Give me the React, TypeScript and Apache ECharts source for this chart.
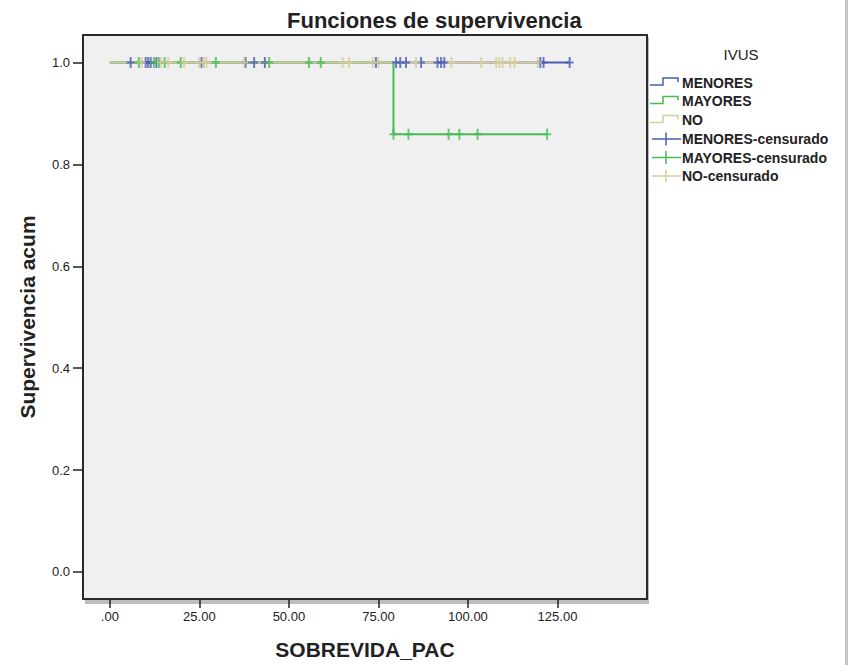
import React, { useEffect, useRef } from "react";
import * as echarts from "echarts";

const title = "Funciones de supervivencia";
const xName = "SOBREVIDA_PAC";
const yName = "Supervivencia acum";
const legendTitle = "IVUS";

const xTicks = [0, 25, 50, 75, 100, 125];
const yTicks = [0, 0.2, 0.4, 0.6, 0.8, 1.0];

const groups = ["MENORES", "MAYORES", "NO"];
const colors = ["#4a5db5", "#45bd50", "#d6ce9c"];

// Kaplan-Meier step curves: [time, cumulative survival]
const menoresCurve = [[0, 1], [128.4, 1]];
const mayoresCurve = [[0, 1], [79.2, 0.859], [122.1, 0.859]];
const noCurve = [[0, 1], [119.5, 1]];

// censored observations: [time, survival]
const menoresCensored = [
  [5.8, 1], [10.0, 1], [10.7, 1], [11.4, 1], [13.0, 1], [25.6, 1], [37.9, 1],
  [40.3, 1], [43.3, 1], [74.3, 1], [79.9, 1], [81.1, 1], [82.7, 1], [86.9, 1],
  [91.5, 1], [92.5, 1], [93.4, 1], [120.2, 1], [121.1, 1], [128.4, 1],
];
const mayoresCensored = [
  [8.1, 1], [12.3, 1], [13.7, 1], [15.3, 1], [19.8, 1], [29.6, 1], [44.5, 1],
  [55.6, 1], [58.9, 1], [79.2, 0.859], [83.4, 0.859], [94.6, 0.859],
  [97.6, 0.859], [102.7, 0.859], [122.1, 0.859],
];
const noCensored = [
  [8.9, 1], [14.2, 1], [16.3, 1], [20.7, 1], [24.9, 1], [26.3, 1], [27.0, 1],
  [37.5, 1], [65.0, 1], [66.8, 1], [73.4, 1], [75.0, 1], [85.5, 1], [95.4, 1],
  [103.7, 1], [107.9, 1], [108.8, 1], [109.7, 1], [111.8, 1], [113.0, 1],
  [119.5, 1],
];

const curves = [menoresCurve, mayoresCurve, noCurve];
const censored = [menoresCensored, mayoresCensored, noCensored];

const FONT = "'Liberation Sans', Arial, sans-serif";
const CROSS = "path://M3,0h2v4.5h3v2h-3v4.5h-2v-4.5h-3v-2h3z";

export default function App() {
  const ref = useRef<HTMLDivElement>(null);
  useEffect(() => {
    document.body.style.margin = "0";
    const chart = echarts.init(ref.current!, null, { renderer: "svg" });

    const series: any[] = [];
    groups.forEach((g, i) => {
      series.push({
        name: g,
        type: "line",
        step: "end",
        data: curves[i],
        showSymbol: false,
        lineStyle: { color: colors[i], width: 2 },
        z: 2 + i * 0.1,
      });
    });
    groups.forEach((g, i) => {
      series.push({
        name: g + "-censurado",
        type: "scatter",
        data: censored[i],
        symbol: CROSS,
        symbolSize: [8, 11],
        itemStyle: { color: colors[i] },
        z: 4 + i * 0.1,
      });
    });

    const legendItems: any[] = [];
    const lx = 650;
    const rowY = [82.5, 101, 120, 139, 157.5, 176];
    legendItems.push({
      type: "text",
      style: {
        x: 741, y: 54, text: legendTitle, fill: "#222",
        font: `15px ${FONT}`, align: "center", verticalAlign: "middle",
      },
    });
    groups.forEach((g, i) => {
      const y = rowY[i];
      legendItems.push({
        type: "polyline",
        shape: { points: [[lx, y + 2.5], [lx + 13, y + 2.5], [lx + 13, y - 4.5], [lx + 28, y - 4.5], [lx + 28, y - 0.5]] },
        style: { stroke: colors[i], lineWidth: 1.5, fill: null },
      });
      legendItems.push({
        type: "text",
        style: { x: 682, y, text: g, fill: "#222", font: `bold 14px ${FONT}`, verticalAlign: "middle" },
      });
    });
    groups.forEach((g, i) => {
      const y = rowY[3 + i];
      legendItems.push({
        type: "line",
        shape: { x1: lx + 2, y1: y, x2: lx + 31, y2: y },
        style: { stroke: colors[i], lineWidth: 1.5 },
      });
      legendItems.push({
        type: "line",
        shape: { x1: lx + 16, y1: y - 6.5, x2: lx + 16, y2: y + 6.5 },
        style: { stroke: colors[i], lineWidth: 1.5 },
      });
      legendItems.push({
        type: "text",
        style: { x: 682, y, text: g + "-censurado", fill: "#222", font: `bold 14px ${FONT}`, verticalAlign: "middle" },
      });
    });

    chart.setOption({
      animation: false,
      backgroundColor: "#ffffff",
      title: {
        text: title,
        left: 282,
        top: 4,
        textStyle: { fontFamily: FONT, fontSize: 22, fontWeight: "bold", color: "#222" },
      },
      grid: {
        left: 83, top: 35, right: 201, bottom: 63,
        show: true, backgroundColor: "#f0f0f0", borderColor: "#2a2a2a", borderWidth: 2,
        containLabel: false,
      },
      xAxis: {
        type: "value",
        min: -7.5,
        max: 150,
        name: xName,
        nameLocation: "middle",
        nameGap: 40,
        nameTextStyle: { fontFamily: FONT, fontSize: 21, fontWeight: "bold", color: "#222" },
        axisLine: { show: false, onZero: false },
        splitLine: { show: false },
        axisTick: { show: true, length: 9, customValues: xTicks, lineStyle: { color: "#222", width: 1.5 } },
        axisLabel: {
          customValues: xTicks, margin: 11,
          fontFamily: FONT, fontSize: 13, color: "#222",
          formatter: (v: number) => (v === 0 ? ".00" : v.toFixed(2)),
        },
      },
      yAxis: {
        type: "value",
        min: -0.053,
        max: 1.054,
        name: yName,
        nameLocation: "middle",
        nameGap: 45,
        nameTextStyle: { fontFamily: FONT, fontSize: 21, fontWeight: "bold", color: "#222" },
        axisLine: { show: false, onZero: false },
        splitLine: { show: false },
        axisTick: { show: true, length: 10, customValues: yTicks, lineStyle: { color: "#222", width: 1.5 } },
        axisLabel: {
          customValues: yTicks, margin: 13,
          fontFamily: FONT, fontSize: 13, color: "#222",
          formatter: (v: number) => v.toFixed(1),
        },
      },
      graphic: [
        { type: "rect", z: -10, shape: { x: 85, y: 37, width: 564, height: 567 }, style: { fill: "#bdbdbd" } },
        { type: "rect", shape: { x: 845, y: 0, width: 3, height: 665 }, style: { fill: "#c4c4c4" } },
        ...legendItems,
      ],
      series,
    });
    return () => chart.dispose();
  }, []);
  return <div ref={ref} style={{ width: 848, height: 665 }} />;
}
